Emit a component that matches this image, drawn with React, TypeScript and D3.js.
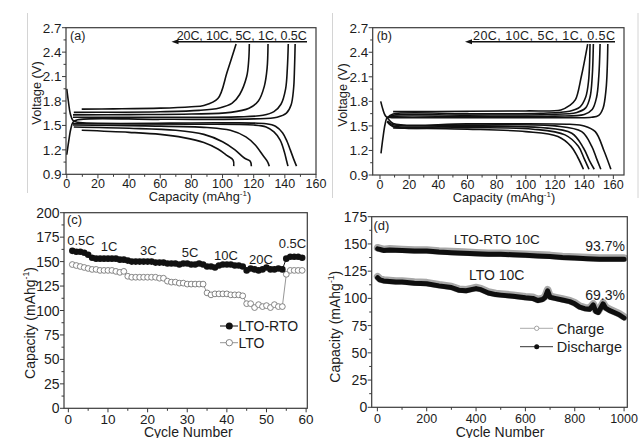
import React from 'react';
import * as d3 from 'd3';

const FONT = '"Liberation Sans", Arial, Helvetica, sans-serif';
type Pt = [number, number];

// ---------- Panel (a) : voltage profiles, LTO-RTO ----------
const rateNames = ['20C', '10C', '5C', '1C', '0.5C'];
const aCharge20C: Pt[] = [[9.6,1.70],[30,1.703],[60,1.712],[80,1.73],[88,1.745],[97,1.83],[103,2.16],[108.7,2.5]];
const aCharge10C: Pt[] = [[4.5,1.66],[30,1.662],[60,1.668],[85,1.685],[98,1.715],[106,1.77],[111,1.88],[115.5,2.1],[116.8,2.3],[117.2,2.5]];
const aCharge5C: Pt[] = [[4,1.63],[40,1.633],[80,1.64],[105,1.66],[117,1.71],[123,1.8],[126.8,1.98],[128.6,2.2],[129.2,2.5]];
const aCharge1C: Pt[] = [[4,1.6],[60,1.6],[110,1.605],[126,1.625],[133,1.67],[137.5,1.76],[140.5,1.95],[141.6,2.2],[142.2,2.5]];
const aCharge05C: Pt[] = [[0,1.14],[1.2,1.3],[2.5,1.45],[4,1.54],[7,1.57],[60,1.575],[120,1.58],[135,1.6],[141,1.65],[144,1.75],[145.6,1.95],[146.2,2.2],[146.6,2.5]];
const aDis20C: Pt[] = [[9.6,1.44],[40,1.415],[60,1.39],[75,1.35],[88,1.29],[97,1.21],[103,1.13],[106.8,1.075],[107.2,1.0]];
const aDis10C: Pt[] = [[4.5,1.48],[40,1.465],[70,1.44],[88,1.39],[100,1.3],[108,1.2],[114,1.1],[117.8,1.06],[118.5,1.0]];
const aDis5C: Pt[] = [[4,1.505],[50,1.495],[90,1.475],[105,1.44],[115,1.36],[121,1.26],[126,1.13],[129,1.05],[130,1.0]];
const aDis1C: Pt[] = [[4,1.52],[80,1.515],[120,1.505],[128,1.48],[133,1.42],[137,1.32],[139.6,1.18],[141.2,1.06],[142,1.0]];
const aDis05C: Pt[] = [[0,1.95],[1,1.8],[2.2,1.65],[4,1.56],[7,1.538],[100,1.532],[128,1.52],[134,1.49],[138.5,1.41],[141.5,1.3],[143.5,1.2],[145.8,1.08],[147.5,1.0]];

// ---------- Panel (b) : voltage profiles, LTO ----------
const bCharge20C: Pt[] = [[9,1.675],[60,1.678],[100,1.683],[124,1.695],[130,1.75],[134,1.82],[138,2.1],[142.4,2.5]];
const bCharge10C: Pt[] = [[5,1.6],[9,1.645],[60,1.648],[110,1.655],[130,1.68],[137,1.73],[141,1.85],[143,2.05],[144,2.5]];
const bCharge5C: Pt[] = [[5,1.6],[9,1.63],[60,1.632],[115,1.64],[135,1.665],[141,1.72],[144,1.85],[145.5,2.1],[146.3,2.5]];
const bCharge1C: Pt[] = [[5,1.6],[9,1.615],[60,1.615],[120,1.62],[140,1.64],[145.5,1.7],[148.5,1.85],[150,2.1],[150.9,2.5]];
const bCharge05C: Pt[] = [[0.7,1.165],[2,1.35],[3.5,1.52],[5,1.6],[9,1.6],[60,1.6],[130,1.6],[145,1.605],[150,1.63],[153,1.72],[155,1.95],[155.8,2.2],[156.2,2.5]];
const bDis20C: Pt[] = [[9,1.475],[60,1.46],[100,1.43],[122,1.37],[131,1.25],[135.5,1.12],[139.5,0.97]];
const bDis10C: Pt[] = [[5,1.55],[9,1.49],[60,1.48],[105,1.46],[126.9,1.39],[136,1.25],[140,1.1],[143.3,0.97]];
const bDis5C: Pt[] = [[5,1.55],[9,1.5],[60,1.495],[110,1.48],[131.5,1.41],[139.5,1.23],[143.5,1.08],[146.9,0.97]];
const bDis1C: Pt[] = [[5,1.56],[9,1.515],[60,1.51],[120,1.5],[138.3,1.43],[145.2,1.25],[148.5,1.1],[151.4,0.97]];
const bDis05C: Pt[] = [[0.5,1.8],[2,1.7],[3.5,1.63],[5,1.6],[9,1.53],[60,1.525],[130,1.52],[140,1.5],[147.6,1.43],[153.5,1.2],[158.3,0.97]];

// ---------- Panel (c) : rate capability ----------
const cCycles = d3.range(1, 60);
const cLtoRto = [161,160,160,159,157, 154,153,153,153,153,153,153,152,152, 151,150,150,150,150,150,150,149,149,149,
  148,148,148,147,148,148,147,147,148,147, 145,145,144,146,147,147,147,146,146,145,
  141,143,142,141,142,144,142,142,143,142, 153,155,155,155,154];
const cLto = [147,146,145,144,143, 142,142,141,141,141,141,140,139,140, 135,134,134,134,134,134,134,134,133,133,
  130,129,129,128,128,127,127,127,127,127, 118,116,117,117,117,117,116,116,116,115,
  107,107,103,106,104,105,103,106,104,104, 137,141,141,141,141];
const cRateLabels = ['0.5C', '1C', '3C', '5C', '10C', '20C', '0.5C'];
const cSeriesNames = ['LTO-RTO', 'LTO'];

// ---------- Panel (d) : long cycling at 10C ----------
const dRtoCycles = [1,10,25,50,100,150,200,250,300,350,400,450,500,550,600,650,700,750,800,850,900,950,1000];
const dRtoDischarge = [145.5,145,144,144.5,144,143.5,143.5,142.5,142,141.5,141,140.5,140.5,140,139.5,139,138.5,137.5,137,136.5,136,136,136];
const dRtoCharge = [146.5,146,145,145.5,145,144.5,144.5,143.5,143,142.5,142,141.5,141.5,141,140.5,140,139.5,138.5,138,137.5,137,137,137];
const dLtoCycles = [1,10,25,50,75,100,150,200,250,300,330,360,380,400,420,450,480,500,550,600,630,650,670,680,690,700,720,750,780,800,820,840,860,875,885,895,905,915,925,940,960,980,1000];
const dLtoDischarge = [119,117,116,115.5,115,115,114,113.5,111.5,110,107.5,107,108,109,108,105,103.5,103,102,100.5,100,98,99,101,107,101,100,98.5,97,95,92,90.5,90,94,88,87,91,95,91,89,87,85,82];
const dLtoCharge = [120,118,117,116.5,116,116,115,114.5,112.5,111,108.5,108,109,110,109,106,104.5,104,103,101.5,101,99,100,102,108,102,101,99.5,98,96,93,91.5,91,95,89,88,92,96,92,90,88,86,83];
const dLegend = ['Charge', 'Discharge'];

// ---------- ticks ----------
const vXTicks = [0,20,40,60,80,100,120,140,160];
const vXMinor = [10,30,50,70,90,110,130,150];
const vYTicks = [0.9,1.2,1.5,1.8,2.1,2.4,2.7];
const vYTickLabels = ['0.9','1.2','1.5','1.8','2.1','2.4','2.7'];
const vYMinor = [1.05,1.35,1.65,1.95,2.25,2.55];
const cXTicks = [0,10,20,30,40,50,60];
const cXMinor = [5,15,25,35,45,55];
const capYTicks = [0,25,50,75,100,125,150,175,200];
const capYMinor = [12.5,37.5,62.5,87.5,112.5,137.5,162.5,187.5];
const dXTicks = [0,200,400,600,800,1000];
const dXMinor = [100,300,500,700,900];

const AX = '#3a3a3a';
const TXT = '#1c1c1c';

type Sc = d3.ScaleLinear<number, number>;

function Frame(p: { x: Sc; y: Sc; xt: number[]; xm: number[]; yt: number[]; ym: number[];
  xl?: string[]; yl?: string[]; xfs: number; yfs: number; xBase: number }) {
  const [x0, x1] = p.x.range();
  const [yb, yt] = p.y.range();
  return (
    <g fontFamily={FONT} fill={TXT}>
      <rect x={x0} y={yt} width={x1 - x0} height={yb - yt} fill="none" stroke={AX} strokeWidth={1.2} />
      {p.xt.map((t, i) => (
        <g key={'xt' + i}>
          <line x1={p.x(t)} x2={p.x(t)} y1={yb} y2={yb + 4} stroke={AX} strokeWidth={1} />
          <text x={p.x(t)} y={p.xBase} textAnchor="middle" fontSize={p.xfs}>{p.xl ? p.xl[i] : String(t)}</text>
        </g>
      ))}
      {p.xm.map((t, i) => (
        <line key={'xm' + i} x1={p.x(t)} x2={p.x(t)} y1={yb} y2={yb + 2.5} stroke={AX} strokeWidth={1} />
      ))}
      {p.yt.map((t, i) => (
        <g key={'yt' + i}>
          <line x1={x0 - 4} x2={x0} y1={p.y(t)} y2={p.y(t)} stroke={AX} strokeWidth={1} />
          <text x={x0 - 4.5} y={p.y(t)} dy="0.36em" textAnchor="end" fontSize={p.yfs}>{p.yl ? p.yl[i] : String(t)}</text>
        </g>
      ))}
      {p.ym.map((t, i) => (
        <line key={'ym' + i} x1={x0 - 2.5} x2={x0} y1={p.y(t)} y2={p.y(t)} stroke={AX} strokeWidth={1} />
      ))}
    </g>
  );
}

function CapTitle({ fs }: { fs: number }) {
  return (
    <>
      Capacity (mAhg<tspan dy={-fs * 0.4} fontSize={fs * 0.62}>-1</tspan><tspan dy={fs * 0.4}>)</tspan>
    </>
  );
}

function VoltagePanel(p: { x: Sc; y: Sc; curves: Pt[][]; label: string; arrowX0: number; arrowX1: number;
  textX: number; textLen: number; titleX: number; titleY: number; yTitleX: number; yTitleY: number; xBase: number }) {
  const line = d3.line<Pt>().x(d => p.x(d[0])).y(d => p.y(d[1])).curve(d3.curveCatmullRom.alpha(0.5));
  const [x0] = p.x.range();
  const yTop = p.y.range()[1];
  return (
    <g>
      <defs>
        <clipPath id={'clip' + p.label}>
          <rect x={x0} y={yTop} width={p.x.range()[1] - x0} height={p.y.range()[0] - yTop} />
        </clipPath>
      </defs>
      <g clipPath={`url(#clip${p.label})`}>
        {p.curves.map((c, i) => (
          <path key={i} d={line(c) || ''} fill="none" stroke="#111" strokeWidth={1.6} strokeLinejoin="round" />
        ))}
      </g>
      <Frame x={p.x} y={p.y} xt={vXTicks} xm={vXMinor} yt={vYTicks} ym={vYMinor} yl={vYTickLabels}
        xfs={12.5} yfs={13.5} xBase={p.xBase} />
      <g fontFamily={FONT} fill={TXT}>
        <text x={x0 + 4} y={40} fontSize={12.5}>({p.label})</text>
        <text x={p.textX} y={39.8} fontSize={12.5} textLength={p.textLen} lengthAdjust="spacing">
          {rateNames.join(', ')}
        </text>
        <line x1={p.arrowX0 + 5} x2={p.arrowX1} y1={41.8} y2={41.8} stroke="#111" strokeWidth={1.4} />
        <polygon points={`${p.arrowX0},41.8 ${p.arrowX0 + 7},39.3 ${p.arrowX0 + 7},44.3`} fill="#111" />
        <text x={p.titleX} y={p.titleY} textAnchor="middle" fontSize={12.8}><CapTitle fs={12.8} /></text>
        <text transform={`translate(${p.yTitleX},${p.yTitleY}) rotate(-90)`} textAnchor="middle" fontSize={12.8}>Voltage (V)</text>
      </g>
    </g>
  );
}

export default function App() {
  // panel (a)
  const xa = d3.scaleLinear().domain([-0.5, 160]).range([66, 316]);
  const ya = d3.scaleLinear().domain([0.9, 2.7]).range([174.3, 27.7]);
  // panel (b)
  const xb = d3.scaleLinear().domain([-5, 167.3]).range([372.7, 624]);
  const yb = d3.scaleLinear().domain([0.9, 2.7]).range([175, 27.7]);
  // panel (c)
  const xc = d3.scaleLinear().domain([-1.1, 60.3]).range([64, 307.3]);
  const yc = d3.scaleLinear().domain([0, 200]).range([408.3, 212.7]);
  // panel (d)
  const xd = d3.scaleLinear().domain([-23, 1013]).range([371.7, 627.3]);
  const yd = d3.scaleLinear().domain([0, 175]).range([407.3, 216.7]);

  const aCurves = [aCharge20C, aCharge10C, aCharge5C, aCharge1C, aCharge05C, aDis20C, aDis10C, aDis5C, aDis1C, aDis05C];
  const bCurves = [bCharge20C, bCharge10C, bCharge5C, bCharge1C, bCharge05C, bDis20C, bDis10C, bDis5C, bDis1C, bDis05C];

  const cLine = d3.line<number>().x((_, i) => xc(cCycles[i])).y(d => yc(d));
  const dLineRto = d3.line<number>().x((_, i) => xd(dRtoCycles[i])).y(d => yd(d));
  const dLineLto = d3.line<number>().x((_, i) => xd(dLtoCycles[i])).y(d => yd(d));

  return (
    <svg width={641} height={438} viewBox="0 0 641 438" style={{ display: 'block', position: 'absolute', left: 0, top: 0, background: '#fff' }}>
      <rect width={641} height={438} fill="#fff" />
      {/* faint scan borders */}
      <line x1={27.5} x2={27.5} y1={13} y2={193} stroke="#d4d4d4" strokeWidth={1} />
      <line x1={332.5} x2={332.5} y1={13} y2={198} stroke="#d4d4d4" strokeWidth={1} />
      <line x1={638} x2={638} y1={13} y2={198} stroke="#d4d4d4" strokeWidth={1} />

      <VoltagePanel x={xa} y={ya} curves={aCurves} label="a" arrowX0={171.5} arrowX1={307}
        textX={176.7} textLen={130} titleX={200} titleY={201} yTitleX={41} yTitleY={93} xBase={188} />
      <VoltagePanel x={xb} y={yb} curves={bCurves} label="b" arrowX0={465} arrowX1={615}
        textX={473} textLen={142} titleX={504} titleY={202} yTitleX={347} yTitleY={95} xBase={189} />

      {/* panel (c) */}
      <g>
        <path d={cLine(cLto) || ''} fill="none" stroke="#8a8a8a" strokeWidth={0.9} />
        <path d={cLine(cLtoRto) || ''} fill="none" stroke="#111" strokeWidth={1} />
        {cLto.map((v, i) => (
          <circle key={'lo' + i} cx={xc(cCycles[i])} cy={yc(v)} r={2.9} fill="#fff" stroke="#777" strokeWidth={0.9} />
        ))}
        {cLtoRto.map((v, i) => (
          <circle key={'lr' + i} cx={xc(cCycles[i])} cy={yc(v)} r={3.3} fill="#111" />
        ))}
        <Frame x={xc} y={yc} xt={cXTicks} xm={cXMinor} yt={capYTicks} ym={capYMinor} xfs={13.5} yfs={14} xBase={423.5} />
        <g fontFamily={FONT} fill={TXT}>
          <text x={67} y={224} fontSize={13}>(c)</text>
          <text x={81} y={244.5} textAnchor="middle" fontSize={13}>{cRateLabels[0]}</text>
          <text x={109} y={250.7} textAnchor="middle" fontSize={13}>{cRateLabels[1]}</text>
          <text x={148.3} y={255} textAnchor="middle" fontSize={13}>{cRateLabels[2]}</text>
          <text x={190} y={257.3} textAnchor="middle" fontSize={13}>{cRateLabels[3]}</text>
          <text x={226} y={260} textAnchor="middle" fontSize={13}>{cRateLabels[4]}</text>
          <text x={261} y={264.3} textAnchor="middle" fontSize={13}>{cRateLabels[5]}</text>
          <text x={292.5} y={247.7} textAnchor="middle" fontSize={13}>{cRateLabels[6]}</text>
          {/* legend */}
          <line x1={220} x2={238} y1={326} y2={326} stroke="#111" strokeWidth={1} />
          <circle cx={229.3} cy={326} r={3.5} fill="#111" />
          <text x={238.5} y={330.8} fontSize={14}>{cSeriesNames[0]}</text>
          <line x1={220} x2={238} y1={342.7} y2={342.7} stroke="#8a8a8a" strokeWidth={0.9} />
          <circle cx={229.3} cy={342.7} r={3.2} fill="#fff" stroke="#777" strokeWidth={0.9} />
          <text x={238.5} y={347.5} fontSize={14}>{cSeriesNames[1]}</text>
          <text x={188.3} y={436.5} textAnchor="middle" fontSize={14}>Cycle Number</text>
          <text transform="translate(35,323) rotate(-90)" textAnchor="middle" fontSize={14}><CapTitle fs={14} /></text>
        </g>
      </g>

      {/* panel (d) */}
      <g>
        <path d={dLineRto(dRtoCharge) || ''} fill="none" stroke="#a8a8a8" strokeWidth={7.5} strokeLinejoin="round" strokeLinecap="round" />
        <path d={dLineRto(dRtoDischarge) || ''} fill="none" stroke="#0e0e0e" strokeWidth={5} strokeLinejoin="round" strokeLinecap="round" />
        <path d={dLineLto(dLtoCharge) || ''} fill="none" stroke="#a8a8a8" strokeWidth={7.5} strokeLinejoin="round" strokeLinecap="round" />
        <path d={dLineLto(dLtoDischarge) || ''} fill="none" stroke="#0e0e0e" strokeWidth={5} strokeLinejoin="round" strokeLinecap="round" />
        <Frame x={xd} y={yd} xt={dXTicks} xm={dXMinor} yt={capYTicks.slice(0, 8)} ym={capYMinor.slice(0, 7)} xfs={12.5} yfs={14} xBase={423} />
        <g fontFamily={FONT} fill={TXT}>
          <text x={373.5} y={230} fontSize={13}>(d)</text>
          <text x={496.7} y={243.8} textAnchor="middle" fontSize={13.5}>LTO-RTO 10C</text>
          <text x={625} y={250.5} textAnchor="end" fontSize={14}>93.7%</text>
          <text x={496.7} y={280} textAnchor="middle" fontSize={14}>LTO 10C</text>
          <text x={625} y={299.5} textAnchor="end" fontSize={14}>69.3%</text>
          <line x1={520} x2={553} y1={328.3} y2={328.3} stroke="#aaa" strokeWidth={1} />
          <circle cx={536.7} cy={328.3} r={2.2} fill="#fff" stroke="#999" strokeWidth={0.9} />
          <text x={556.7} y={333.6} fontSize={14.5}>{dLegend[0]}</text>
          <line x1={520} x2={553} y1={346.7} y2={346.7} stroke="#333" strokeWidth={1} />
          <circle cx={536.7} cy={346.7} r={2.5} fill="#111" />
          <text x={556.7} y={351.8} fontSize={14.5}>{dLegend[1]}</text>
          <text x={500} y={436.5} textAnchor="middle" fontSize={14}>Cycle Number</text>
          <text transform="translate(340,326.7) rotate(-90)" textAnchor="middle" fontSize={14}><CapTitle fs={14} /></text>
        </g>
      </g>
    </svg>
  );
}
